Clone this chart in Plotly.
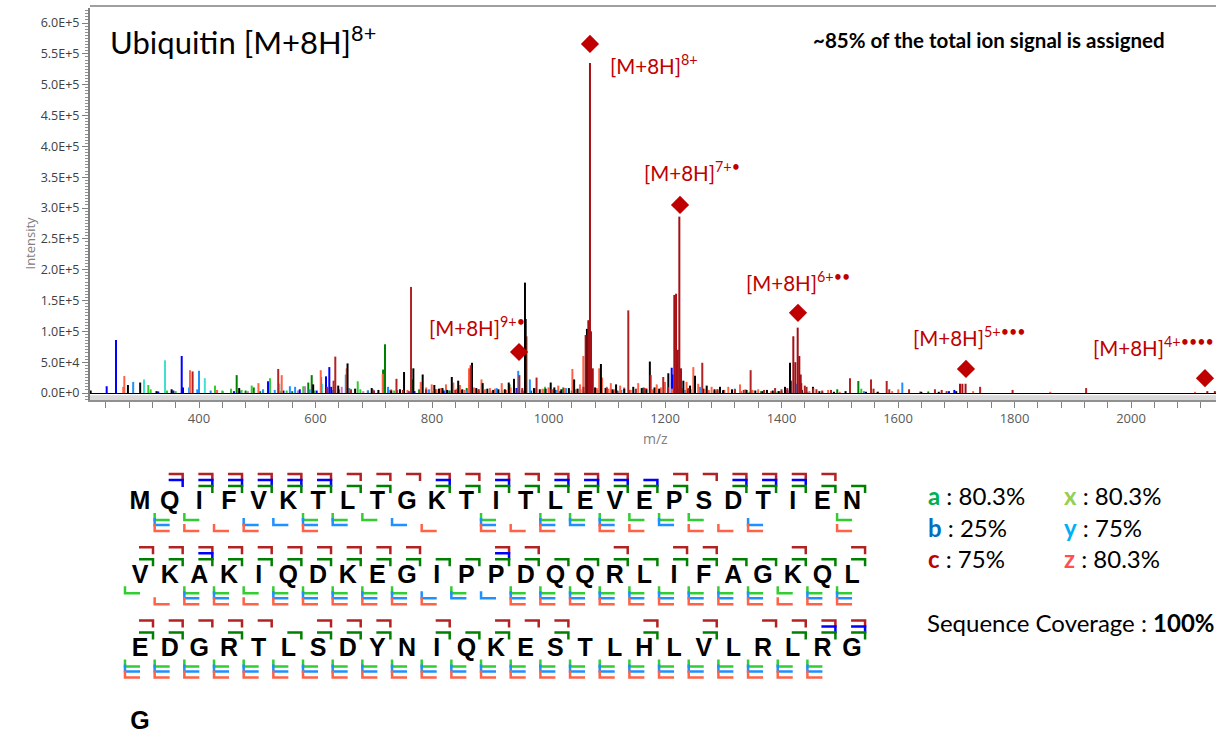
import math
import plotly.graph_objects as go

W, H = 1216, 736

# ---------------- spectrum data (m/z, intensity) ----------------
prec_mz = [1063.8, 1068.4, 1071.2, 1073.0, 1076.0, 1216.0, 1219.0, 1222.0, 1224.6, 1227.5,
           1420.3, 1423.7, 1427.8, 1430.6, 1433.0, 1706.4, 1710.5, 1716.0, 2131.0, 2144.0]
prec_int = [94000, 118000, 535000, 100000, 40000, 159000, 161000, 70000, 286000, 40000,
            92000, 50000, 106000, 60000, 30000, 15000, 15000, 15000, 3000, 3000]

c_mz = [389, 536, 631, 634, 739, 764, 866.4, 950, 979.5, 1137, 1175.4, 1197, 1264, 1347, 1389,
        1443, 1454.6, 1434, 1440, 1460, 1470, 1485, 1517.6, 1553.7, 1558, 1580.6, 1585, 1619,
        1663.4, 1675, 1683.5, 1741, 1796.7, 1923,
        620, 661, 700, 750, 790, 840, 880, 955, 1005, 1060, 1100, 1150, 1165, 1205, 1240, 1290,
        1320, 1335, 1370, 1400, 1410]
c_int = [35000, 39000, 20000, 59000, 23000, 172000, 45000, 29000, 25000, 134000, 29000, 26000,
         49000, 37000, 8000, 10000, 8000, 16000, 12000, 6000, 4000, 5000, 24000, 22000, 7000,
         19500, 6000, 6000, 6000, 5000, 3000, 10000, 5000, 8000,
         10000, 6000, 4000, 5000, 6000, 5000, 6000, 8000, 6000, 10000, 8000, 7000, 8000, 10000,
         8000, 6000, 6000, 5000, 5000, 6000, 8000]

z_mz = [270, 271.8, 384.5, 431, 502, 542, 609, 653.5, 699, 715.4, 728, 780.6, 799.5, 824, 836.6,
        848, 863.5, 885, 899.5, 919.7, 962.6, 1016.8, 1041, 1054, 1059.8, 1087, 1092, 1107, 1123,
        1154, 1185.8, 1200, 1237, 1248.6, 1257, 1280, 1308.7, 1328.8, 1360, 1480, 1600.5, 1637.8,
        1729, 1861.4, 2110,
        730, 758, 790, 808, 815, 842, 856, 872, 891, 908, 927, 935, 943, 978, 990, 1000, 1008,
        1028, 1047, 1070, 1083, 1103, 1114, 1130, 1141, 1168, 1179, 1193, 1212, 1230, 1244, 1268,
        1275, 1290, 1302, 1315, 1338, 1350, 1370, 1382, 1398, 1410, 1448, 1500, 1566, 1590]
z_int = [10000, 27500, 37000, 5000, 16000, 29000, 37000, 40000, 6000, 31000, 5000, 18000, 14000,
         14000, 17000, 13000, 40000, 22000, 8000, 16000, 92000, 12000, 39000, 14000, 60000, 40000,
         25000, 16000, 12000, 16000, 14000, 18000, 18000, 42000, 15000, 10000, 10000, 14000, 6000,
         5000, 6000, 2500, 3000, 2000, 2000,
         6000, 5000, 9000, 6000, 8000, 7000, 5000, 9000, 6000, 7000, 5000, 9000, 6000, 8000, 7000,
         9000, 6000, 8000, 6000, 10000, 8000, 7000, 6000, 9000, 5000, 8000, 6000, 9000, 7000, 8000,
         6000, 7000, 5000, 6000, 5000, 4000, 6000, 5000, 4000, 3000, 3000, 4000, 3000, 2000, 2000,
         3000]

n_mz = [214, 278, 299, 327, 353, 469, 596, 639, 655, 668, 696.5, 708, 752, 768, 784, 804, 818,
        834, 845, 868.7, 887, 914, 931.7, 940.8, 959.6, 960.8, 1003.8, 1044, 1066, 1090, 1116,
        1145.5, 1174, 1205.7, 1231.5, 1243, 1251.5, 1271.6, 1294.4, 1375, 1406, 1414.6, 1454, 1700,
        730, 745, 790, 812, 826, 852, 876, 895, 905, 925, 975, 985, 995, 1010, 1022, 1035, 1050,
        1080, 1098, 1110, 1130, 1160, 1168, 1182, 1190, 1240, 1265, 1285, 1300, 1315, 1340, 1355,
        1368, 1385, 1395, 1435, 1465, 1490, 1510, 1545, 1565, 1640, 1670]
n_int = [4000, 13000, 17000, 3000, 6000, 8000, 14000, 12000, 48000, 7000, 8000, 5000, 34000,
         40000, 30000, 13000, 8000, 26000, 20000, 49000, 16000, 6000, 17000, 23000, 179000, 120000,
         17000, 22000, 104000, 47000, 14000, 10000, 51000, 32000, 20000, 12000, 28000, 12000,
         10000, 5000, 10000, 49000, 10000, 3000,
         4000, 6000, 5000, 7000, 5000, 6000, 8000, 7000, 5000, 6000, 8000, 6000, 7000, 9000, 6000,
         8000, 7000, 9000, 8000, 6000, 7000, 8000, 6000, 9000, 7000, 6000, 7000, 6000, 5000, 6000,
         5000, 4000, 3000, 4000, 3000, 5000, 3000, 2000, 3000, 2000, 2000, 2000, 2000]

b_mz = [241.5, 257.5, 356, 370.3, 372.5, 602, 518.5, 618, 623.7, 1211.5, 1416, 1687.5, 1696.7,
        1213, 770, 945,
        330, 460, 545, 573, 627, 700, 760, 820, 870, 900, 975, 1020, 1110, 1165, 1225, 1300, 1410]
b_int = [11000, 86000, 4000, 60000, 9000, 4000, 19000, 27000, 42000, 41000, 20000, 3000, 5000,
         30000, 3000, 8000,
         2000, 3000, 4000, 6000, 10000, 4000, 3000, 3000, 4000, 3000, 4000, 3000, 4000, 3000,
         6000, 3000, 5000]

y_mz = [287, 383, 400, 397, 510, 556, 565, 652, 658, 724.5, 911, 948, 968, 1100, 1260, 1425,
        1541.6, 1607.4, 1030, 1150, 1320,
        420, 470, 530, 590, 630, 690, 740, 765, 795, 820, 860, 880, 925, 990, 1015, 1055, 1085,
        1125, 1190, 1235, 1285, 1350, 1395, 1445]
y_int = [18000, 9000, 36000, 6000, 6000, 11000, 10000, 30000, 8000, 10000, 8000, 36000, 22000,
         10000, 10000, 15000, 3000, 17000, 8000, 6000, 7000,
         4000, 3000, 5000, 6000, 5000, 4000, 5000, 4000, 6000, 5000, 4000, 6000, 5000, 6000, 5000,
         6000, 5000, 5000, 4000, 5000, 4000, 4000, 3000, 2000]

a_mz = [464.7, 494, 587.6, 593.5, 609.6, 716, 719.3, 767, 806, 859.6, 933, 1025.4, 1163, 1495.7,
        1531.9, 1652,
        480, 505, 560, 620, 640, 690, 700, 745, 778, 830, 850, 880, 900, 955, 970, 1012, 1040,
        1090, 1118, 1140, 1180, 1200, 1240, 1290, 1330, 1365, 1400, 1440, 1470]
a_int = [29000, 9000, 17000, 29000, 26000, 38000, 79000, 22000, 6000, 8000, 14000, 9000, 9000,
         6000, 19500, 2500,
         4000, 3000, 3000, 8000, 6000, 4000, 3000, 5000, 6000, 4000, 5000, 4000, 3000, 5000, 4000,
         5000, 4000, 6000, 4000, 5000, 3000, 4000, 3000, 4000, 3000, 3000, 3000, 2000, 2000]

x_mz = [313, 317, 345, 427.5, 455, 473, 490.5, 522, 550.5, 579, 672.5, 677, 994, 1537,
        330, 360, 440, 510, 540, 598, 632, 660, 690, 735, 800, 845, 890, 920, 957, 1005, 1060,
        1100, 1150, 1220, 1275, 1345, 1390]
x_int = [13000, 6000, 4000, 12000, 7000, 5000, 12000, 24000, 4000, 11000, 19000, 6000, 10000,
         7000,
         3000, 3000, 4000, 3000, 3000, 4000, 5000, 4000, 3000, 4000, 3000, 4000, 3000, 4000, 3000,
         4000, 3000, 3000, 3000, 3000, 3000, 2000, 2000]

t_mz = [305.6, 341.6, 410, 538, 611, 830]
t_int = [22000, 53000, 24000, 15000, 15000, 4000]

v_mz = [441, 484, 570, 582, 645, 682, 1120, 1300]
v_int = [3000, 3000, 4000, 11000, 10000, 3000, 3000, 2000]

diamond_mz = [1071.2, 1225.8, 1428.3, 1716.7, 2127.0, 949.4]
diamond_int = [566000, 305000, 130000, 39000, 24000, 66500]
label_text = ["[M+8H]<sup>8+</sup>", "[M+8H]<sup>7+•</sup>", "[M+8H]<sup>6+••</sup>",
              "[M+8H]<sup>5+•••</sup>", "[M+8H]<sup>4+••••</sup>", "[M+8H]<sup>9+•</sup>"]
label_mz = [1102, 1160.5, 1335.6, 1622.3, 1931.3, 791.4]
label_int = [532000, 358400, 181600, 92400, 76200, 108650]

x_ticks = [400, 600, 800, 1000, 1200, 1400, 1600, 1800, 2000]
y_ticks = [i * 50000 for i in range(13)]

# ---------------- sequence map data ----------------
sequence = "MQIFVKTLTGKTITLEVEPSDTIENVKAKIQDKEGIPPDQQRLIFAGKQLEDGRTLSDYNIQKESTLHLVLRLRGG"
c_sites = [2, 3, 4, 5, 6, 7, 8, 9, 10, 11, 12, 13, 14, 15, 16, 17, 19, 20, 21, 22, 23, 24,
           26, 27, 28, 29, 30, 31, 32, 33, 34, 35, 38, 39, 42, 44, 45, 48, 50,
           51, 52, 53, 54, 55, 57, 58, 59, 61, 63, 64, 65, 68, 70, 72, 73, 74, 75]
b_sites = [2, 3, 4, 5, 6, 7, 11, 13, 15, 16, 17, 18, 21, 22, 23, 28, 38, 74, 75]
a_sites = [3, 4, 5, 6, 7, 8, 9, 11, 12, 13, 14, 15, 16, 17, 18, 19, 21, 22, 23, 24, 25,
           26, 27, 28, 29, 30, 31, 32, 33, 34, 35, 36, 37, 38, 39, 40, 41, 42, 43, 44, 45, 46,
           47, 48, 49, 50, 51, 52, 54, 56, 57, 58, 59, 61, 62, 63, 65, 68, 70, 73, 74, 75]
x_sites = [1, 2, 6, 7, 8, 12, 14, 15, 16, 17, 18, 19, 24, 25, 27, 28, 29, 30, 31, 32, 33, 34,
           36] + list(range(38, 74))
y_sites = [1, 4, 5, 6, 7, 9, 12, 14, 15, 16, 18, 21, 27, 28, 30, 31, 32, 33, 34, 35, 36, 37,
           38, 39, 40, 41, 42, 43, 44, 45, 46] + list(range(48, 74))
z_sites = [1, 2, 3, 4, 6, 10, 12, 13, 14, 16, 17, 19, 20, 21, 24, 26, 27, 28, 29, 30, 31, 32,
           33, 34, 35] + list(range(38, 74))

coverage_labels = ["a", "b", "c", "x", "y", "z"]
coverage_values = ["80.3%", "25%", "75%", "80.3%", "75%", "80.3%"]
sequence_coverage = "100%"

# ---------------- styling constants ----------------
C_PREC = "#A50F15"
series = [
    (v_mz, v_int, "#DA70D6"),
    (t_mz, t_int, "#40E0D0"),
    (x_mz, x_int, "#32CD32"),
    (a_mz, a_int, "#008000"),
    (y_mz, y_int, "#1E90FF"),
    (b_mz, b_int, "#0000FF"),
    (z_mz, z_int, "#FF6347"),
    (n_mz, n_int, "#000000"),
    (c_mz, c_int, "#B22222"),
    (prec_mz, prec_int, C_PREC),
]

# pixel geometry of the spectrum
PX_L, PX_R = 90, 1216
PX_Y0 = 393          # pixel row of intensity 0
PX_BOT, PX_TOP = 400, 8
MZ_PER_PX = 1 / 0.5825
INT_PER_PX = 1 / 6.1667e-4
mz_lo = 400 + (PX_L - 199) * MZ_PER_PX
mz_hi = 400 + (PX_R - 199) * MZ_PER_PX
int_lo = -(PX_BOT - PX_Y0) * INT_PER_PX
int_hi = (PX_Y0 - PX_TOP) * INT_PER_PX


def px(x):
    return x / W


def py(y):
    return 1 - y / H


def sci(v):
    if v == 0:
        return "0.0E+0"
    e = int(math.floor(math.log10(v)))
    return f"{v / 10 ** e:.1f}E+{e}"


fig = go.Figure()

for mz, inten, col in series:
    xs, ys = [], []
    for m, v in zip(mz, inten):
        xs += [m, m, None]
        ys += [0, v, None]
    fig.add_trace(go.Scatter(x=xs, y=ys, mode="lines", line=dict(color=col, width=2),
                             hoverinfo="skip", showlegend=False, xaxis="x", yaxis="y"))

fig.add_trace(go.Scatter(x=diamond_mz, y=diamond_int, mode="markers",
                         marker=dict(symbol="diamond", size=14, color="#C00000"),
                         showlegend=False, hoverinfo="skip", xaxis="x", yaxis="y"))

# ---------------- sequence map ----------------
X0, DX = 140, 29.67
Y0, DY = 503, 73.3
seq_x, seq_y = [], []
for i, aa in enumerate(sequence):
    seq_x.append(X0 + DX * (i % 25))
    seq_y.append(Y0 + DY * (i // 25))
fig.add_trace(go.Scatter(x=seq_x, y=seq_y, mode="text", text=[f"<b>{a}</b>" for a in sequence],
                         textfont=dict(family="Liberation Sans Narrow, Liberation Sans, Arial",
                                       size=25, color="#000000"),
                         textposition="middle center", showlegend=False, hoverinfo="skip",
                         xaxis="x2", yaxis="y2"))

top_types = [(c_sites, "#B22222", -29), (b_sites, "#0000FF", -23), (a_sites, "#008000", -17)]
bot_types = [(x_sites, "#32CD32", 17), (y_sites, "#1E90FF", 22), (z_sites, "#FF6347", 28)]
for sites, col, off in top_types:
    xs, ys = [], []
    for k in sites:
        p = k - 1
        cx = X0 + DX * (p % 25)
        lv = Y0 + DY * (p // 25) + off
        xs += [cx - 1, cx + 13, cx + 13, None]
        ys += [lv, lv, lv + 7, None]
    fig.add_trace(go.Scatter(x=xs, y=ys, mode="lines", line=dict(color=col, width=2.5),
                             showlegend=False, hoverinfo="skip", xaxis="x2", yaxis="y2"))
for sites, col, off in bot_types:
    xs, ys = [], []
    for k in sites:
        p = k
        cx = X0 + DX * (p % 25)
        lv = Y0 + DY * (p // 25) + off
        xs += [cx - 15, cx - 15, cx, None]
        ys += [lv - 7, lv, lv, None]
    fig.add_trace(go.Scatter(x=xs, y=ys, mode="lines", line=dict(color=col, width=2.5),
                             showlegend=False, hoverinfo="skip", xaxis="x2", yaxis="y2"))

# ---------------- annotations ----------------
ann = []
CAL = "Lato, Open Sans, sans-serif"
ann.append(dict(text="Ubiquitin [M+8H]<sup>8+</sup>", x=px(108), y=py(40), xref="paper", yref="paper",
                xanchor="left", yanchor="middle", showarrow=False,
                font=dict(family=CAL, size=31, color="#000000")))
ann.append(dict(text="<b>~85% of the total ion signal is assigned</b>", x=px(811), y=py(40),
                xref="paper", yref="paper", xanchor="left", yanchor="middle", showarrow=False,
                font=dict(family=CAL, size=20.5, color="#000000")))
for t, m, v in zip(label_text, label_mz, label_int):
    ann.append(dict(text=t, x=m, y=v, xref="x", yref="y", xanchor="left", yanchor="middle",
                    showarrow=False, font=dict(family=CAL, size=20.5, color="#C00000")))
ann.append(dict(text="Intensity", x=px(18), y=py(215), xref="paper", yref="paper", textangle=-90,
                showarrow=False, font=dict(family="Open Sans", size=13, color="#808080")))
ann.append(dict(text="m/z", x=px(655), y=py(438), xref="paper", yref="paper",
                showarrow=False, font=dict(family="Open Sans", size=14, color="#808080")))

cov_colors = ["#00B050", "#0070C0", "#C00000", "#92D050", "#00B0F0", "#FF5050"]
for i, (lab, val, col) in enumerate(zip(coverage_labels, coverage_values, cov_colors)):
    xl = 926 if i < 3 else 1062
    yl = [495, 527, 558][i % 3]
    ann.append(dict(text=f"<b><span style='color:{col}'>{lab}</span></b> : {val}",
                    x=px(xl), y=py(yl), xref="paper", yref="paper", xanchor="left",
                    yanchor="middle", showarrow=False,
                    font=dict(family=CAL, size=24, color="#000000")))
ann.append(dict(text=f"Sequence Coverage : <b>{sequence_coverage}</b>", x=px(925), y=py(622),
                xref="paper", yref="paper", xanchor="left", yanchor="middle", showarrow=False,
                font=dict(family=CAL, size=24, color="#000000")))

shapes = [
    dict(type="rect", xref="paper", yref="y", x0=px(PX_L), x1=1, y0=int_lo, y1=-2.2 * INT_PER_PX,
         fillcolor="#D9D9D9", line=dict(width=0), layer="below"),
    dict(type="line", xref="paper", yref="paper", x0=px(PX_L), x1=1, y0=py(6), y1=py(6),
         line=dict(color="#808080", width=1.5)),
]

fig.update_layout(
    width=W, height=H, margin=dict(l=0, r=0, t=0, b=0, pad=0),
    paper_bgcolor="white", plot_bgcolor="rgba(0,0,0,0)",
    showlegend=False,
    xaxis=dict(domain=[px(PX_L), 1], range=[mz_lo, mz_hi], anchor="y", automargin=False,
               tickvals=x_ticks, ticktext=[str(v) for v in x_ticks],
               ticks="outside", ticklen=6, tickcolor="#808080", tickwidth=1,
               minor=dict(dtick=40, tick0=0, ticks="outside", ticklen=6, tickcolor="#808080"),
               showline=True, linecolor="#909090", linewidth=1.5, showgrid=False, zeroline=False,
               tickfont=dict(family="Open Sans", size=13, color="#595959")),
    yaxis=dict(domain=[py(PX_BOT), py(PX_TOP)], range=[int_lo, int_hi], anchor="x",
               automargin=False,
               tickvals=y_ticks, ticktext=[sci(v) for v in y_ticks],
               ticks="outside", ticklen=6, tickcolor="#808080",
               minor=dict(dtick=5000, ticks="outside", ticklen=3, tickcolor="#909090"),
               showline=True, linecolor="#808080", linewidth=2, showgrid=False,
               zeroline=True, zerolinecolor="#000000", zerolinewidth=1,
               tickfont=dict(family="Open Sans", size=12.5, color="#404040")),
    xaxis2=dict(domain=[0, 1], range=[0, W], anchor="y2", visible=False, automargin=False),
    yaxis2=dict(domain=[0, 1], range=[H, 0], anchor="x2", visible=False, automargin=False),
    annotations=ann, shapes=shapes,
)

fig.write_html("out.html", config={"displayModeBar": False, "staticPlot": True},
               post_script="document.body.style.margin='0';document.body.style.padding='0';"
                           "document.body.style.overflow='hidden';")
